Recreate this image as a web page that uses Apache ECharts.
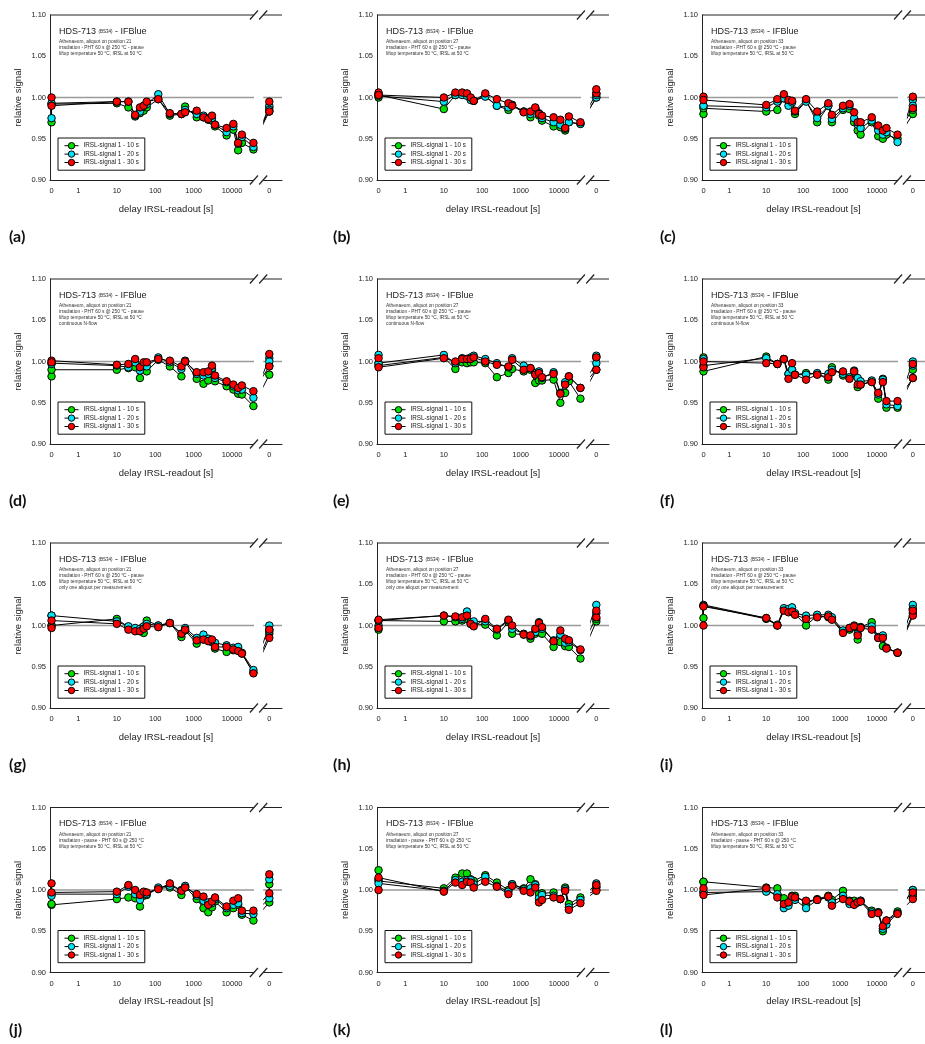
<!DOCTYPE html>
<html>
<head>
<meta charset="utf-8">
<script src="https://cdn.jsdelivr.net/npm/echarts@6.0.0/dist/echarts.min.js"></script>
<style>
html, body { margin: 0; padding: 0; background: #fff; }
#chart { width: 925px; height: 1044px; }
</style>
</head>
<body>
<div id="chart"></div>
<script>
// delay of each reading [s]; 'after' = readings after the break
var DELAYS = [0, 0, 10, 20, 30, 40, 50, 60, 120, 240, 480, 600, 1200, 1800, 2400, 3000, 3600, 7200, 10800, 14400, 18000, 36000, 'after', 'after'];
var SERIES_NAMES = ['IRSL-signal 1 - 10 s', 'IRSL-signal 1 - 20 s', 'IRSL-signal 1 - 30 s'];
var X_TICK_DELAYS = [0, 1, 10, 100, 1000, 10000, 'after'];
var X_TICK_LABELS = ['0', '1', '10', '100', '1000', '10000', '0'];
var REF_LEVEL = 1.00;

// (a)
var a10 = [0.970, 0.992, 0.993, 0.988, 0.977, 0.981, 0.984, 0.988, 0.998, 0.978, 0.980, 0.989, 0.976, 0.976, 0.973, 0.972, 0.965, 0.954, 0.961, 0.936, 0.945, 0.937, 0.988, 0.983];
var a20 = [0.975, 0.993, 0.995, 0.995, 0.978, 0.983, 0.990, 0.992, 1.004, 0.980, 0.980, 0.985, 0.980, 0.978, 0.975, 0.975, 0.967, 0.958, 0.965, 0.944, 0.952, 0.940, 0.990, 0.985];
var a30 = [1.000, 0.990, 0.995, 0.995, 0.979, 0.988, 0.990, 0.995, 0.998, 0.981, 0.980, 0.982, 0.984, 0.976, 0.974, 0.978, 0.967, 0.963, 0.968, 0.945, 0.955, 0.945, 0.983, 0.995];
// (b)
var b10 = [1.000, 1.003, 0.986, 1.003, 1.004, 1.004, 0.999, 0.996, 1.002, 0.990, 0.985, 0.991, 0.983, 0.976, 0.987, 0.978, 0.972, 0.965, 0.964, 0.960, 0.970, 0.968, 1.000, 1.005];
var b20 = [1.002, 1.004, 0.995, 1.003, 1.003, 1.002, 0.997, 0.996, 1.001, 0.990, 0.988, 0.991, 0.983, 0.980, 0.987, 0.981, 0.975, 0.970, 0.967, 0.962, 0.970, 0.968, 1.000, 1.003];
var b30 = [1.006, 1.003, 1.000, 1.006, 1.006, 1.005, 1.000, 0.996, 1.005, 0.998, 0.993, 0.990, 0.982, 0.983, 0.988, 0.980, 0.978, 0.976, 0.973, 0.963, 0.977, 0.970, 1.005, 1.010];
// (c)
var c10 = [0.980, 0.987, 0.983, 0.985, 0.999, 0.995, 0.995, 0.980, 0.996, 0.970, 0.990, 0.970, 0.985, 0.986, 0.970, 0.960, 0.955, 0.970, 0.953, 0.950, 0.955, 0.950, 0.980, 0.985];
var c20 = [0.990, 0.990, 0.988, 0.995, 0.999, 0.990, 0.994, 0.983, 0.995, 0.975, 0.990, 0.974, 0.987, 0.990, 0.975, 0.967, 0.963, 0.972, 0.960, 0.955, 0.958, 0.946, 0.997, 0.990];
var c30 = [1.001, 0.997, 0.991, 0.998, 1.004, 0.997, 0.996, 0.984, 0.998, 0.983, 0.993, 0.979, 0.990, 0.992, 0.982, 0.970, 0.970, 0.976, 0.966, 0.960, 0.963, 0.955, 0.987, 1.001];
// (d)
var d10 = [0.982, 0.990, 0.990, 0.992, 0.993, 0.980, 0.996, 0.988, 1.002, 0.994, 0.982, 1.000, 0.979, 0.973, 0.977, 0.990, 0.976, 0.970, 0.966, 0.961, 0.960, 0.946, 0.984, 0.995];
var d20 = [0.998, 0.997, 0.995, 0.993, 0.999, 0.989, 0.998, 0.994, 1.005, 0.999, 0.991, 1.001, 0.985, 0.983, 0.985, 0.992, 0.980, 0.975, 0.970, 0.965, 0.966, 0.956, 1.004, 1.000];
var d30 = [1.001, 0.999, 0.996, 0.997, 1.003, 0.993, 0.999, 0.999, 1.003, 1.001, 0.994, 1.000, 0.987, 0.987, 0.988, 0.995, 0.983, 0.976, 0.972, 0.968, 0.971, 0.964, 0.994, 1.009];
// (e)
var e10 = [0.998, 0.995, 1.005, 0.991, 0.999, 0.998, 0.999, 0.999, 0.998, 0.981, 0.986, 0.991, 0.988, 0.990, 0.974, 0.977, 0.977, 0.978, 0.950, 0.962, 0.976, 0.955, 0.990, 1.005];
var e20 = [1.008, 0.998, 1.008, 0.998, 1.004, 1.003, 1.005, 1.007, 1.003, 0.998, 0.993, 1.004, 0.995, 0.992, 0.986, 0.988, 0.980, 0.987, 0.962, 0.975, 0.982, 0.968, 0.998, 1.007];
var e30 = [1.004, 0.993, 1.004, 1.000, 1.003, 1.003, 1.003, 1.005, 1.000, 0.996, 0.994, 1.002, 0.990, 0.992, 0.984, 0.986, 0.981, 0.985, 0.961, 0.972, 0.982, 0.968, 0.990, 1.005];
// (f)
var f10 = [1.005, 0.988, 1.006, 0.997, 1.003, 0.985, 0.990, 0.984, 0.986, 0.985, 0.978, 0.993, 0.983, 0.980, 0.986, 0.969, 0.972, 0.976, 0.955, 0.979, 0.944, 0.944, 0.980, 0.990];
var f20 = [1.003, 0.995, 1.004, 0.997, 1.003, 0.985, 0.990, 0.984, 0.984, 0.986, 0.985, 0.990, 0.985, 0.981, 0.989, 0.980, 0.976, 0.977, 0.960, 0.978, 0.948, 0.946, 1.000, 0.995];
var f30 = [0.993, 1.000, 0.998, 0.997, 1.003, 0.979, 0.998, 0.984, 0.978, 0.984, 0.981, 0.987, 0.988, 0.979, 0.988, 0.972, 0.972, 0.975, 0.962, 0.975, 0.952, 0.952, 0.980, 0.997];
// (g)
var g10 = [1.000, 1.000, 1.008, 0.998, 0.994, 0.996, 0.991, 1.006, 1.000, 1.003, 0.986, 0.994, 0.978, 0.983, 0.983, 0.980, 0.972, 0.968, 0.970, 0.970, 0.966, 0.943, 0.990, 0.995];
var g20 = [1.012, 1.012, 1.005, 0.999, 0.997, 0.996, 0.999, 1.002, 1.000, 1.003, 0.990, 0.997, 0.985, 0.989, 0.984, 0.980, 0.979, 0.976, 0.973, 0.974, 0.967, 0.946, 1.000, 0.993];
var g30 = [0.997, 1.006, 1.002, 0.995, 0.993, 0.993, 0.996, 0.999, 0.998, 1.003, 0.990, 0.995, 0.982, 0.983, 0.981, 0.983, 0.974, 0.974, 0.971, 0.969, 0.966, 0.942, 0.985, 0.995];
// (h)
var h10 = [0.995, 1.006, 1.005, 1.005, 1.006, 1.008, 1.002, 1.002, 1.001, 0.988, 1.004, 0.990, 0.989, 0.984, 0.990, 0.992, 0.990, 0.974, 0.980, 0.975, 0.974, 0.960, 1.005, 1.008];
var h20 = [1.000, 1.006, 1.012, 1.010, 1.008, 1.017, 1.004, 1.005, 1.005, 0.995, 1.006, 0.996, 0.990, 0.987, 0.992, 1.004, 0.996, 0.982, 0.989, 0.979, 0.980, 0.970, 1.025, 1.015];
var h30 = [0.997, 1.007, 1.012, 1.011, 1.010, 1.012, 1.002, 0.999, 1.008, 0.996, 1.007, 1.000, 0.989, 0.988, 0.996, 1.003, 0.998, 0.981, 0.994, 0.984, 0.982, 0.971, 1.010, 1.018];
// (i)
var i10 = [1.009, 1.024, 1.008, 1.000, 1.020, 1.017, 1.018, 1.014, 1.000, 1.012, 1.010, 1.008, 0.993, 0.995, 0.998, 0.983, 0.998, 1.004, 0.985, 0.975, 0.973, 0.967, 1.015, 1.020];
var i20 = [1.025, 1.024, 1.009, 1.001, 1.021, 1.020, 1.022, 1.015, 1.012, 1.013, 1.013, 1.010, 0.994, 0.997, 1.000, 0.990, 0.998, 0.999, 0.986, 0.988, 0.973, 0.967, 1.025, 1.020];
var i30 = [1.000, 1.023, 1.009, 1.000, 1.018, 1.016, 1.017, 1.013, 1.008, 1.010, 1.011, 1.007, 0.991, 0.997, 0.999, 0.988, 0.997, 0.995, 0.985, 0.985, 0.972, 0.967, 1.012, 1.018];
// (j)
var j10 = [0.982, 0.983, 0.989, 0.991, 0.990, 0.980, 0.993, 0.994, 1.002, 1.003, 0.994, 1.004, 0.989, 0.978, 0.973, 0.979, 0.986, 0.973, 0.978, 0.982, 0.970, 0.963, 0.985, 1.007];
var j20 = [0.995, 0.993, 0.995, 1.004, 0.995, 0.988, 0.996, 0.995, 1.003, 1.005, 1.000, 1.005, 0.993, 0.987, 0.985, 0.984, 0.989, 0.978, 0.982, 0.984, 0.972, 0.971, 0.990, 1.013];
var j30 = [1.008, 0.997, 0.998, 1.006, 1.000, 0.994, 0.998, 0.997, 1.001, 1.008, 0.999, 1.003, 0.995, 0.992, 0.982, 0.986, 0.991, 0.980, 0.987, 0.990, 0.975, 0.975, 0.996, 1.019];
// (k)
var k10 = [1.024, 1.011, 1.002, 1.015, 1.020, 1.020, 1.013, 1.011, 1.018, 1.009, 1.000, 1.007, 1.002, 1.013, 1.007, 0.995, 0.996, 0.997, 0.989, 1.003, 0.983, 0.991, 1.000, 1.004];
var k20 = [1.013, 1.008, 0.999, 1.012, 1.010, 1.012, 1.012, 1.007, 1.016, 1.005, 0.998, 1.007, 1.001, 1.002, 1.006, 0.990, 0.994, 0.993, 0.989, 1.001, 0.979, 0.988, 1.008, 1.003];
var k30 = [1.000, 1.015, 0.998, 1.009, 1.006, 1.010, 1.009, 1.003, 1.010, 1.004, 0.995, 1.005, 0.999, 0.997, 1.003, 0.985, 0.988, 0.991, 0.989, 0.999, 0.976, 0.984, 0.999, 1.006];
// (l)
var l10 = [1.010, 1.010, 1.003, 1.002, 0.990, 0.983, 0.993, 0.993, 0.984, 0.989, 0.993, 0.988, 0.999, 0.987, 0.987, 0.985, 0.987, 0.975, 0.973, 0.950, 0.963, 0.974, 1.000, 0.995];
var l20 = [0.997, 0.998, 0.998, 0.995, 0.978, 0.981, 0.990, 0.988, 0.978, 0.988, 0.991, 0.985, 0.993, 0.983, 0.983, 0.985, 0.987, 0.973, 0.973, 0.953, 0.958, 0.972, 1.000, 0.993];
var l30 = [1.002, 0.994, 1.002, 0.991, 0.983, 0.985, 0.992, 0.991, 0.987, 0.988, 0.992, 0.981, 0.989, 0.986, 0.982, 0.985, 0.986, 0.971, 0.972, 0.956, 0.963, 0.971, 0.989, 0.997];

var NOTES_A = ['Athenaeum, aliquot on position 21', 'irradiation - PHT 60 s @ 250 °C - pause', 'liftup temperature 50 °C, IRSL at 50 °C'];
var NOTES_B = ['Athenaeum, aliquot on position 27', 'irradiation - PHT 60 s @ 250 °C - pause', 'liftup temperature 50 °C, IRSL at 50 °C'];
var NOTES_C = ['Athenaeum, aliquot on position 33', 'irradiation - PHT 60 s @ 250 °C - pause', 'liftup temperature 50 °C, IRSL at 50 °C'];
var NOTES_J = ['Athenaeum, aliquot on position 21', 'irradiation - pause - PHT 60 s @ 250 °C', 'liftup temperature 50 °C, IRSL at 50 °C'];
var NOTES_K = ['Athenaeum, aliquot on position 27', 'irradiation - pause - PHT 60 s @ 250 °C', 'liftup temperature 50 °C, IRSL at 50 °C'];
var NOTES_L = ['Athenaeum, aliquot on position 33', 'irradiation - pause - PHT 60 s @ 250 °C', 'liftup temperature 50 °C, IRSL at 50 °C'];
var N_FLOW = 'continuous N-flow';
var ONE_ALIQUOT = 'only one aliquot per measurement';

var panels = [
    {tag: '(a)', col: 0, row: 0, sets: [a10, a20, a30], notes: NOTES_A},
    {tag: '(b)', col: 1, row: 0, sets: [b10, b20, b30], notes: NOTES_B},
    {tag: '(c)', col: 2, row: 0, sets: [c10, c20, c30], notes: NOTES_C},
    {tag: '(d)', col: 0, row: 1, sets: [d10, d20, d30], notes: NOTES_A.concat([N_FLOW])},
    {tag: '(e)', col: 1, row: 1, sets: [e10, e20, e30], notes: NOTES_B.concat([N_FLOW])},
    {tag: '(f)', col: 2, row: 1, sets: [f10, f20, f30], notes: NOTES_C.concat([N_FLOW])},
    {tag: '(g)', col: 0, row: 2, sets: [g10, g20, g30], notes: NOTES_A.concat([ONE_ALIQUOT])},
    {tag: '(h)', col: 1, row: 2, sets: [h10, h20, h30], notes: NOTES_B.concat([ONE_ALIQUOT])},
    {tag: '(i)', col: 2, row: 2, sets: [i10, i20, i30], notes: NOTES_C.concat([ONE_ALIQUOT])},
    {tag: '(j)', col: 0, row: 3, sets: [j10, j20, j30], notes: NOTES_J},
    {tag: '(k)', col: 1, row: 3, sets: [k10, k20, k30], notes: NOTES_K},
    {tag: '(l)', col: 2, row: 3, sets: [l10, l20, l30], notes: NOTES_L}
];

// layout
var COL_LEFT = [50, 377, 702];
var ROW_TOP = [15, 279, 543, 807.5];
var TAG_LEFT = [9, 333, 660];
var GRID_W = 232, GRID_H = 165;
var X_MIN = -0.74, X_MAX = 5.3;
var Y_MIN = 0.90, Y_MAX = 1.10;
var ZERO_X = -0.7, AFTER_X = 4.97;
var BREAK_FROM = 4.57, BREAK_TO = 4.81;
var COLORS = ['#00e000', '#00e4f4', '#ff0000'];
var AXIS_COLOR = '#222';
var FONT = '"Liberation Sans", Arial, sans-serif';

// log position on the axis, the zero readings sit at the ends
function xPos(d) {
    if (d === 'after') return AFTER_X;
    if (d === 0) return ZERO_X;
    return Math.log10(d);
}
var tickPos = X_TICK_DELAYS.map(xPos);

function refLine(params, api) {
    var p0 = api.coord([X_MIN, REF_LEVEL]), p1 = api.coord([X_MAX, REF_LEVEL]);
    return {type: 'line', shape: {x1: p0[0], y1: p0[1], x2: p1[0], y2: p1[1]},
        style: {stroke: '#9a9a9a', lineWidth: 1.5}};
}

// top frame line, white gap of the axis break and the // marks
function breakMarks(params, api) {
    var tl = api.coord([X_MIN, Y_MAX]), br = api.coord([X_MAX, Y_MIN]);
    var b0 = api.coord([BREAK_FROM, Y_MAX])[0], b1 = api.coord([BREAK_TO, Y_MAX])[0];
    var top = tl[1], bot = br[1];
    var kids = [
        {type: 'rect', shape: {x: b0, y: top - 6, width: b1 - b0, height: bot - top + 12}, style: {fill: '#fff'}},
        {type: 'line', shape: {x1: tl[0], y1: top, x2: b0, y2: top}, style: {stroke: AXIS_COLOR, lineWidth: 1}},
        {type: 'line', shape: {x1: b1, y1: top, x2: br[0], y2: top}, style: {stroke: AXIS_COLOR, lineWidth: 1}}
    ];
    [b0, b1].forEach(function (x) {
        [top, bot].forEach(function (y) {
            kids.push({type: 'line', shape: {x1: x - 4, y1: y + 4.5, x2: x + 4, y2: y - 4.5},
                style: {stroke: AXIS_COLOR, lineWidth: 1.2}});
        });
    });
    return {type: 'group', children: kids};
}

var grids = [], xAxes = [], yAxes = [], series = [], legends = [], titles = [];

panels.forEach(function (p, i) {
    var gx = COL_LEFT[p.col], gy = ROW_TOP[p.row];
    grids.push({left: gx, top: gy, width: GRID_W, height: GRID_H, containLabel: false});
    xAxes.push({
        type: 'value', gridIndex: i, min: X_MIN, max: X_MAX,
        axisLine: {onZero: false, lineStyle: {color: AXIS_COLOR, width: 1}},
        axisTick: {show: false},
        splitLine: {show: false},
        axisLabel: {
            customValues: tickPos, margin: 7, fontSize: 7.5, color: '#222', fontFamily: FONT,
            formatter: function (v) {
                for (var k = 0; k < tickPos.length; k++) {
                    if (Math.abs(tickPos[k] - v) < 1e-6) return X_TICK_LABELS[k];
                }
                return '';
            }
        },
        name: 'delay IRSL-readout [s]', nameLocation: 'middle', nameGap: 24,
        nameTextStyle: {fontSize: 9.5, color: '#222', fontFamily: FONT}
    });
    yAxes.push({
        type: 'value', gridIndex: i, min: Y_MIN, max: Y_MAX, interval: 0.05,
        axisLine: {show: true, onZero: false, lineStyle: {color: AXIS_COLOR, width: 1}},
        axisTick: {show: false},
        splitLine: {show: false},
        axisLabel: {margin: 4, fontSize: 7.5, color: '#222', fontFamily: FONT,
            formatter: function (v) { return v.toFixed(2); }},
        name: 'relative signal', nameLocation: 'middle', nameGap: 27,
        nameTextStyle: {fontSize: 9.5, color: '#222', fontFamily: FONT}
    });

    series.push({
        type: 'custom', xAxisIndex: i, yAxisIndex: i, z: 1, silent: true,
        data: [[X_MIN, REF_LEVEL]], renderItem: refLine
    });
    p.sets.forEach(function (vals, s) {
        var pts = vals.map(function (v, k) { return [xPos(DELAYS[k]), v]; });
        series.push({
            type: 'line', name: SERIES_NAMES[s], xAxisIndex: i, yAxisIndex: i, z: 2,
            data: pts, symbol: 'circle', showSymbol: false, silent: true,
            lineStyle: {color: '#000', width: 1},
            itemStyle: {color: COLORS[s], borderColor: '#000', borderWidth: 1}
        });
    });
    series.push({
        type: 'custom', xAxisIndex: i, yAxisIndex: i, z: 3, silent: true,
        data: [[BREAK_FROM, Y_MAX]], renderItem: breakMarks
    });
    p.sets.forEach(function (vals, s) {
        var pts = vals.map(function (v, k) { return [xPos(DELAYS[k]), v]; });
        series.push({
            type: 'scatter', name: 'pts' + s, xAxisIndex: i, yAxisIndex: i, z: 4,
            data: pts, symbol: 'circle', symbolSize: 7.5, clip: false, silent: true,
            itemStyle: {color: COLORS[s], borderColor: '#000', borderWidth: 1, opacity: 1}
        });
    });

    legends.push({
        data: SERIES_NAMES, orient: 'vertical', left: gx + 8, top: gy + 123,
        itemWidth: 14, itemHeight: 8, itemGap: 1, padding: [4, 6],
        borderColor: '#111', borderWidth: 1, borderRadius: 0, backgroundColor: '#fff',
        selectedMode: false,
        itemStyle: {borderColor: '#000', borderWidth: 1},
        lineStyle: {color: '#000', width: 1},
        textStyle: {fontSize: 6.3, color: '#222', fontFamily: FONT}
    });

    titles.push({
        left: gx + 9, top: gy + 12, padding: 0, itemGap: 3,
        text: '{m|HDS-713 }{s|(BS34)}{m| - IFBlue}',
        textStyle: {rich: {
            m: {fontSize: 9, fontWeight: 'normal', color: '#222', fontFamily: FONT},
            s: {fontSize: 4.5, fontWeight: 'normal', color: '#222', fontFamily: FONT}
        }},
        subtext: p.notes.join('\n'),
        subtextStyle: {fontSize: 4.8, lineHeight: 6, color: '#333', fontFamily: FONT}
    });
    titles.push({
        left: TAG_LEFT[p.col], top: gy + 214, padding: 0, text: p.tag,
        textStyle: {fontSize: 16, fontWeight: 'bold', color: '#111', fontFamily: 'Lato, "Open Sans", sans-serif'}
    });
});

var chart = echarts.init(document.getElementById('chart'), null, {renderer: 'canvas'});
chart.setOption({
    animation: false,
    backgroundColor: '#fff',
    title: titles,
    legend: legends,
    grid: grids,
    xAxis: xAxes,
    yAxis: yAxes,
    series: series
});
</script>
</body>
</html>
